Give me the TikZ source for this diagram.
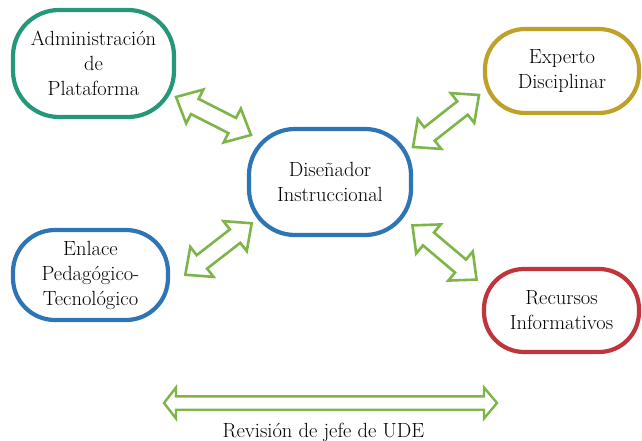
\documentclass[tikz,border=0pt]{standalone}
\usepackage{fontspec}
\usetikzlibrary{calc}
\begin{document}
\definecolor{tealline}{HTML}{25977A}
\definecolor{blueline}{HTML}{2E75B6}
\definecolor{goldline}{HTML}{BFA12A}
\definecolor{redline}{HTML}{C0343C}
\definecolor{arrowgreen}{HTML}{7DB548}
\begin{tikzpicture}[x=1pt,y=1pt,
  rolebox/.style 2 args={draw=#1, line width=4.2pt, rounded corners=#2, fill=white,
    align=center, font=\fontsize{20.5}{25}\selectfont, inner sep=0pt},
  blockarrow/.style={draw=arrowgreen, line width=2.6pt, fill=white, line join=miter},
  caption/.style={font=\fontsize{20.5}{25}\selectfont, anchor=base}]
\useasboundingbox (0,0) rectangle (642,-441);

% roles
\node[rolebox={tealline}{46pt}, minimum width=161, minimum height=107] (admin) at (93.5,-63.5)
  {Administración\\de\\Plataforma};
\node[rolebox={blueline}{46pt}, minimum width=162, minimum height=106] (disenador) at (330,-182)
  {Diseñador\\Instruccional};
\node[rolebox={goldline}{40pt}, minimum width=154, minimum height=84] (experto) at (562,-71)
  {Experto\\Disciplinar};
\node[rolebox={blueline}{42pt}, minimum width=155, minimum height=90] (enlace) at (90.5,-275)
  {Enlace\\Pedagógico-\\Tecnológico};
\node[rolebox={redline}{40pt}, minimum width=155, minimum height=83] (recursos) at (561.5,-310.5)
  {Recursos\\Informativos};

% two-headed block arrows between the designer and each role
\newcommand\twoway[3]{%
  \draw[blockarrow, shift={(#1,#2)}, rotate=#3]
    (-42,0) -- (-21,19) -- (-21,8.5) -- (21,8.5) -- (21,19) -- (42,0)
    -- (21,-19) -- (21,-8.5) -- (-21,-8.5) -- (-21,-19) -- cycle;}
\twoway{213.5}{-116}{-26.9}
\twoway{446}{-121}{38.2}
\twoway{218.5}{-249}{37.8}
\twoway{444.5}{-252.5}{-40.2}

% review arrow spanning the whole process
\coordinate (revL) at (164,-403);
\coordinate (revR) at (497,-403);
\draw[blockarrow, line width=2.4pt]
  (revL) -- ++(12,15.5) -- ++(0,-8.8) -- ($(revR)+(-13,6.7)$) -- ++(0,8.8) -- (revR)
  -- ++(-13,-15.5) -- ++(0,8.8) -- ($(revL)+(12,-6.7)$) -- ++(0,-8.8) -- cycle;
\node[caption] (revision) at (323.5,-437) {Revisión de jefe de UDE};
\end{tikzpicture}
\end{document}
